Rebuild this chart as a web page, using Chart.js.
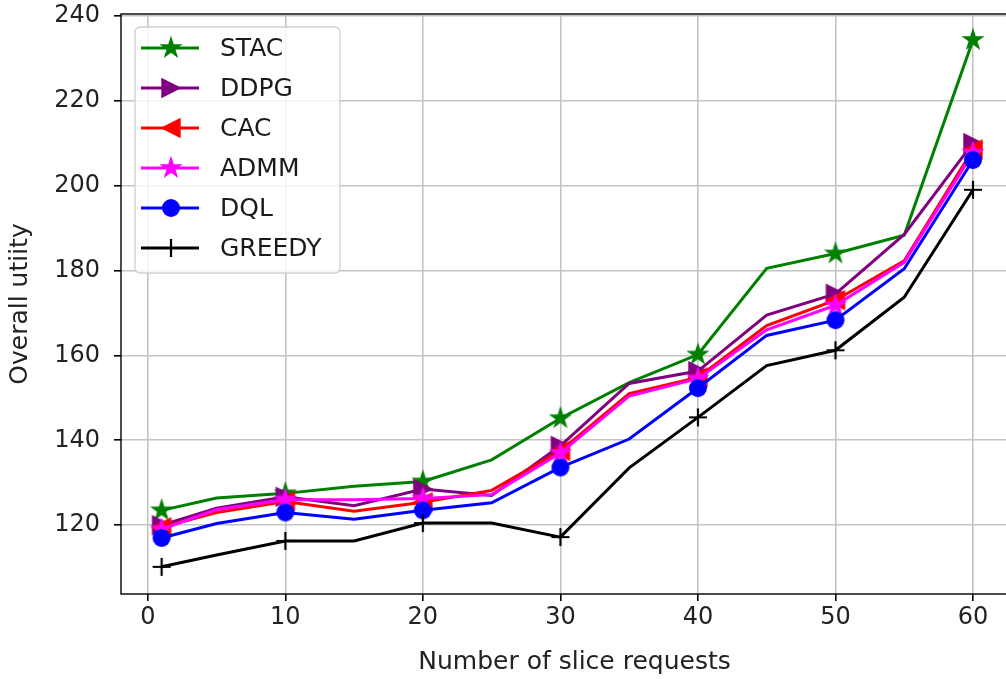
<!DOCTYPE html>
<html>
<head>
<meta charset="utf-8">
<script src="https://cdn.jsdelivr.net/npm/chart.js@4.4.0/dist/chart.umd.min.js"></script>
<style>
html, body { margin: 0; padding: 0; background: #fff; overflow: hidden; }
#wrap { width: 1040px; height: 679px; }
</style>
</head>
<body>
<div id="wrap"><canvas id="line-chart" width="1040" height="679"></canvas></div>
<script>
// values
const requests = [1, 5, 10, 15, 20, 25, 30, 35, 40, 45, 50, 55, 60];
const stac   = [123.5, 126.4, 127.5, 129.2, 130.3, 135.4, 145.2, 153.6, 160.2, 180.5, 184.0, 188.3, 234.3];
const ddpg   = [120.0, 124.0, 126.7, 124.6, 128.5, 127.0, 138.7, 153.4, 156.3, 169.5, 174.5, 188.5, 210.0];
const cac    = [119.5, 123.0, 125.6, 123.3, 125.4, 128.2, 137.5, 151.0, 154.8, 167.0, 173.0, 182.3, 208.5];
const admm   = [119.0, 123.7, 126.0, 126.0, 126.3, 127.2, 137.0, 150.4, 154.5, 166.0, 171.8, 181.9, 207.7];
const dql    = [117.0, 120.4, 123.0, 121.4, 123.5, 125.3, 133.6, 140.3, 152.3, 164.7, 168.3, 180.4, 206.0];
const greedy = [110.2, 113.0, 116.3, 116.3, 120.5, 120.5, 117.2, 133.5, 145.4, 157.6, 161.2, 173.7, 199.0];

const seriesNames = ["STAC", "DDPG", "CAC", "ADMM", "DQL", "GREEDY"];
const xTicks = [0, 10, 20, 30, 40, 50, 60];
const yTicks = [120, 140, 160, 180, 200, 220, 240];

const FONT = "'DejaVu Sans', sans-serif";

// little canvases used as marker images (matplotlib style markers)
function makeMarker(kind, color) {
    const s = 26;
    const c = document.createElement("canvas");
    c.width = s; c.height = s;
    const g = c.getContext("2d");
    g.translate(s / 2, s / 2);
    g.fillStyle = color;
    g.strokeStyle = color;
    g.lineWidth = 1.4;
    g.beginPath();
    if (kind == "star") {
        const R = 10, r = R * 0.382;
        for (let i = 0; i < 10; i++) {
            const a = -Math.PI / 2 + i * Math.PI / 5;
            const rr = i % 2 == 0 ? R : r;
            g.lineTo(rr * Math.cos(a), rr * Math.sin(a));
        }
        g.closePath(); g.fill(); g.stroke();
    } else if (kind == "right") {
        g.moveTo(9, 0); g.lineTo(-9, -9); g.lineTo(-9, 9);
        g.closePath(); g.fill(); g.stroke();
    } else if (kind == "left") {
        g.moveTo(-9, 0); g.lineTo(9, -9); g.lineTo(9, 9);
        g.closePath(); g.fill(); g.stroke();
    } else if (kind == "circle") {
        g.arc(0, 0, 9, 0, Math.PI * 2);
        g.fill();
    } else if (kind == "plus") {
        g.lineWidth = 2.2;
        g.moveTo(-9, 0); g.lineTo(9, 0);
        g.moveTo(0, -9); g.lineTo(0, 9);
        g.stroke();
    }
    return c;
}

const colors = ["#008000", "#800080", "#ff0000", "#ff00ff", "#0000ff", "#000000"];
const markers = ["star", "right", "left", "star", "circle", "plus"];
const values = [stac, ddpg, cac, admm, dql, greedy];

const datasets = [];
for (let i = 0; i < values.length; i++) {
    datasets.push({
        label: seriesNames[i],
        data: values[i].map((v, j) => ({ x: requests[j], y: v })),
        borderColor: colors[i],
        backgroundColor: colors[i],
        borderWidth: 3,
        tension: 0,
        pointStyle: makeMarker(markers[i], colors[i]),
        pointRadius: ctx => (ctx.dataIndex % 2 == 0 ? 9 : 0),
        order: values.length - i
    });
}

// box around the plot + legend inside the axes, like matplotlib
const frameAndLegend = {
    id: "frameAndLegend",
    afterDraw(chart) {
        const ctx = chart.ctx;
        const a = chart.chartArea;
        ctx.save();
        ctx.strokeStyle = "#000";
        ctx.lineWidth = 1.4;
        ctx.strokeRect(a.left, a.top, a.right - a.left, a.bottom - a.top);

        const lx = a.left + 14, ly = a.top + 13, lw = 205, lh = 246;
        ctx.fillStyle = "rgba(255,255,255,0.8)";
        ctx.strokeStyle = "#d0d0d0";
        ctx.lineWidth = 1.3;
        ctx.beginPath();
        ctx.roundRect(lx, ly, lw, lh, 5);
        ctx.fill();
        ctx.stroke();

        ctx.font = "25px " + FONT;
        ctx.textBaseline = "middle";
        chart.data.datasets.forEach((ds, i) => {
            const cy = ly + 21 + i * 40;
            ctx.strokeStyle = ds.borderColor;
            ctx.lineWidth = 3;
            ctx.beginPath();
            ctx.moveTo(lx + 6, cy);
            ctx.lineTo(lx + 64, cy);
            ctx.stroke();
            const img = ds.pointStyle;
            ctx.drawImage(img, lx + 36 - img.width / 2, cy - img.height / 2);
            ctx.fillStyle = "#1a1a1a";
            ctx.fillText(ds.label, lx + 85, cy + 1);
        });
        ctx.restore();
    }
};

new Chart(document.getElementById("line-chart"), {
    type: "line",
    data: { datasets: datasets },
    options: {
        responsive: false,
        animation: false,
        events: [],
        layout: { padding: { top: 14, right: 0, bottom: 0, left: 0 } },
        plugins: {
            legend: { display: false },
            tooltip: { enabled: false }
        },
        scales: {
            x: {
                type: "linear",
                min: -1.95,
                max: 64,
                afterBuildTicks: s => { s.ticks = xTicks.map(v => ({ value: v })); },
                afterFit: s => { s.height = 85; s.paddingLeft = 0; s.paddingRight = 0; },
                border: { display: false },
                grid: { color: "#c4c4c4", lineWidth: 1.6, tickColor: "#000", tickLength: 7 },
                ticks: { color: "#222", font: { family: FONT, size: 24 }, padding: 2, maxRotation: 0 },
                title: {
                    display: true,
                    text: "Number of slice requests",
                    color: "#222",
                    font: { family: FONT, size: 25 },
                    padding: { top: 0, bottom: 2 }
                }
            },
            y: {
                min: 103.8,
                max: 240.4,
                afterBuildTicks: s => { s.ticks = yTicks.map(v => ({ value: v })); },
                afterFit: s => { s.width = 121; s.paddingTop = 0; s.paddingBottom = 0; },
                border: { display: false },
                grid: { color: "#c4c4c4", lineWidth: 1.6, tickColor: "#000", tickLength: 7 },
                ticks: { color: "#222", font: { family: FONT, size: 24 }, padding: 14 },
                title: {
                    display: true,
                    text: "Overall utiity",
                    color: "#222",
                    font: { family: FONT, size: 25 },
                    padding: { top: 5, bottom: 0 }
                }
            }
        }
    },
    plugins: [frameAndLegend]
});
</script>
</body>
</html>
